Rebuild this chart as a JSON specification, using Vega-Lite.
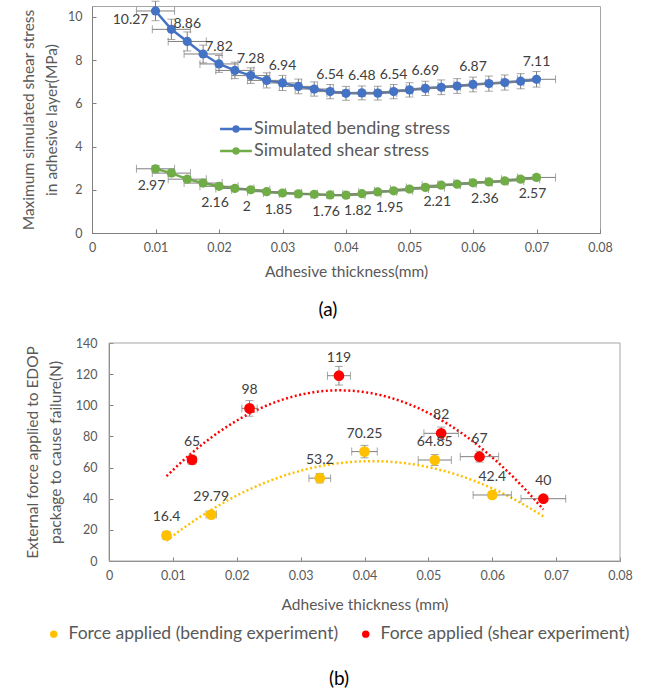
{
  "$schema": "https://vega.github.io/schema/vega-lite/v6.json",
  "background": "white",
  "padding": {"left": 21, "top": 0, "right": 5, "bottom": 5},
  "columns": 1,
  "spacing": 16,
  "datasets": {
    "top": [
      {"t": 0.01, "s": "Simulated bending stress", "v": 10.27, "e": 0.45, "xe": 0.003, "lab": "10.27"},
      {"t": 0.0125, "s": "Simulated bending stress", "v": 9.42, "e": 0.47, "xe": 0.003, "lab": ""},
      {"t": 0.015, "s": "Simulated bending stress", "v": 8.86, "e": 0.44, "xe": 0.003, "lab": "8.86"},
      {"t": 0.0175, "s": "Simulated bending stress", "v": 8.28, "e": 0.41, "xe": 0.003, "lab": ""},
      {"t": 0.02, "s": "Simulated bending stress", "v": 7.82, "e": 0.39, "xe": 0.003, "lab": "7.82"},
      {"t": 0.0225, "s": "Simulated bending stress", "v": 7.52, "e": 0.38, "xe": 0.003, "lab": ""},
      {"t": 0.025, "s": "Simulated bending stress", "v": 7.28, "e": 0.36, "xe": 0.003, "lab": "7.28"},
      {"t": 0.0275, "s": "Simulated bending stress", "v": 7.06, "e": 0.35, "xe": 0.003, "lab": ""},
      {"t": 0.03, "s": "Simulated bending stress", "v": 6.94, "e": 0.35, "xe": 0.003, "lab": "6.94"},
      {"t": 0.0325, "s": "Simulated bending stress", "v": 6.78, "e": 0.34, "xe": 0.003, "lab": ""},
      {"t": 0.035, "s": "Simulated bending stress", "v": 6.66, "e": 0.33, "xe": 0.003, "lab": ""},
      {"t": 0.0375, "s": "Simulated bending stress", "v": 6.54, "e": 0.33, "xe": 0.003, "lab": "6.54"},
      {"t": 0.04, "s": "Simulated bending stress", "v": 6.46, "e": 0.32, "xe": 0.003, "lab": ""},
      {"t": 0.0425, "s": "Simulated bending stress", "v": 6.48, "e": 0.32, "xe": 0.003, "lab": "6.48"},
      {"t": 0.045, "s": "Simulated bending stress", "v": 6.47, "e": 0.32, "xe": 0.003, "lab": ""},
      {"t": 0.0475, "s": "Simulated bending stress", "v": 6.54, "e": 0.33, "xe": 0.003, "lab": "6.54"},
      {"t": 0.05, "s": "Simulated bending stress", "v": 6.62, "e": 0.33, "xe": 0.003, "lab": ""},
      {"t": 0.0525, "s": "Simulated bending stress", "v": 6.69, "e": 0.33, "xe": 0.003, "lab": "6.69"},
      {"t": 0.055, "s": "Simulated bending stress", "v": 6.74, "e": 0.34, "xe": 0.003, "lab": ""},
      {"t": 0.0575, "s": "Simulated bending stress", "v": 6.8, "e": 0.34, "xe": 0.003, "lab": ""},
      {"t": 0.06, "s": "Simulated bending stress", "v": 6.87, "e": 0.34, "xe": 0.003, "lab": "6.87"},
      {"t": 0.0625, "s": "Simulated bending stress", "v": 6.91, "e": 0.35, "xe": 0.003, "lab": ""},
      {"t": 0.065, "s": "Simulated bending stress", "v": 6.96, "e": 0.35, "xe": 0.003, "lab": ""},
      {"t": 0.0675, "s": "Simulated bending stress", "v": 7.02, "e": 0.35, "xe": 0.003, "lab": ""},
      {"t": 0.07, "s": "Simulated bending stress", "v": 7.11, "e": 0.36, "xe": 0.003, "lab": "7.11"},
      {"t": 0.01, "s": "Simulated shear stress", "v": 2.97, "e": 0.15, "xe": 0.003, "lab": "2.97"},
      {"t": 0.0125, "s": "Simulated shear stress", "v": 2.77, "e": 0.14, "xe": 0.003, "lab": ""},
      {"t": 0.015, "s": "Simulated shear stress", "v": 2.49, "e": 0.12, "xe": 0.003, "lab": ""},
      {"t": 0.0175, "s": "Simulated shear stress", "v": 2.31, "e": 0.12, "xe": 0.003, "lab": ""},
      {"t": 0.02, "s": "Simulated shear stress", "v": 2.16, "e": 0.11, "xe": 0.003, "lab": "2.16"},
      {"t": 0.0225, "s": "Simulated shear stress", "v": 2.06, "e": 0.1, "xe": 0.003, "lab": ""},
      {"t": 0.025, "s": "Simulated shear stress", "v": 2.0, "e": 0.1, "xe": 0.003, "lab": "2"},
      {"t": 0.0275, "s": "Simulated shear stress", "v": 1.91, "e": 0.1, "xe": 0.003, "lab": ""},
      {"t": 0.03, "s": "Simulated shear stress", "v": 1.85, "e": 0.09, "xe": 0.003, "lab": "1.85"},
      {"t": 0.0325, "s": "Simulated shear stress", "v": 1.81, "e": 0.09, "xe": 0.003, "lab": ""},
      {"t": 0.035, "s": "Simulated shear stress", "v": 1.79, "e": 0.09, "xe": 0.003, "lab": ""},
      {"t": 0.0375, "s": "Simulated shear stress", "v": 1.76, "e": 0.09, "xe": 0.003, "lab": "1.76"},
      {"t": 0.04, "s": "Simulated shear stress", "v": 1.75, "e": 0.09, "xe": 0.003, "lab": ""},
      {"t": 0.0425, "s": "Simulated shear stress", "v": 1.82, "e": 0.09, "xe": 0.003, "lab": "1.82"},
      {"t": 0.045, "s": "Simulated shear stress", "v": 1.9, "e": 0.1, "xe": 0.003, "lab": ""},
      {"t": 0.0475, "s": "Simulated shear stress", "v": 1.95, "e": 0.1, "xe": 0.003, "lab": "1.95"},
      {"t": 0.05, "s": "Simulated shear stress", "v": 2.03, "e": 0.1, "xe": 0.003, "lab": ""},
      {"t": 0.0525, "s": "Simulated shear stress", "v": 2.11, "e": 0.11, "xe": 0.003, "lab": ""},
      {"t": 0.055, "s": "Simulated shear stress", "v": 2.21, "e": 0.11, "xe": 0.003, "lab": "2.21"},
      {"t": 0.0575, "s": "Simulated shear stress", "v": 2.26, "e": 0.11, "xe": 0.003, "lab": ""},
      {"t": 0.06, "s": "Simulated shear stress", "v": 2.32, "e": 0.12, "xe": 0.003, "lab": ""},
      {"t": 0.0625, "s": "Simulated shear stress", "v": 2.36, "e": 0.12, "xe": 0.003, "lab": "2.36"},
      {"t": 0.065, "s": "Simulated shear stress", "v": 2.41, "e": 0.12, "xe": 0.003, "lab": ""},
      {"t": 0.0675, "s": "Simulated shear stress", "v": 2.49, "e": 0.12, "xe": 0.003, "lab": ""},
      {"t": 0.07, "s": "Simulated shear stress", "v": 2.57, "e": 0.13, "xe": 0.003, "lab": "2.57"}
    ],
    "bottom": [
      {"t": 0.009, "g": "Force applied (bending experiment)", "f": 16.4, "ye": 2.5, "xe": 0.0005, "lab": "16.4"},
      {"t": 0.016, "g": "Force applied (bending experiment)", "f": 29.79, "ye": 2, "xe": 0.0008, "lab": "29.79"},
      {"t": 0.033, "g": "Force applied (bending experiment)", "f": 53.2, "ye": 3, "xe": 0.0017, "lab": "53.2"},
      {"t": 0.04, "g": "Force applied (bending experiment)", "f": 70.25, "ye": 4, "xe": 0.002, "lab": "70.25"},
      {"t": 0.051, "g": "Force applied (bending experiment)", "f": 64.85, "ye": 3.5, "xe": 0.0026, "lab": "64.85"},
      {"t": 0.06, "g": "Force applied (bending experiment)", "f": 42.4, "ye": 2, "xe": 0.003, "lab": "42.4"},
      {"t": 0.013, "g": "Force applied (shear experiment)", "f": 65, "ye": 3, "xe": 0.0007, "lab": "65"},
      {"t": 0.022, "g": "Force applied (shear experiment)", "f": 98, "ye": 5, "xe": 0.0012, "lab": "98"},
      {"t": 0.036, "g": "Force applied (shear experiment)", "f": 119, "ye": 6, "xe": 0.0018, "lab": "119"},
      {"t": 0.052, "g": "Force applied (shear experiment)", "f": 82, "ye": 4, "xe": 0.0027, "lab": "82"},
      {"t": 0.058, "g": "Force applied (shear experiment)", "f": 67, "ye": 3.5, "xe": 0.003, "lab": "67"},
      {"t": 0.068, "g": "Force applied (shear experiment)", "f": 40, "ye": 1.5, "xe": 0.0035, "lab": "40"}
    ]
  },
  "concat": [
    {
      "width": 508,
      "height": 227,
      "data": {"name": "top"},
      "title": {"text": "(a)", "orient": "bottom", "anchor": "middle", "frame": "group", "fontSize": 19, "fontWeight": "normal", "color": "#000000", "font": "Lato", "offset": 21, "dx": -18},
      "encoding": {
        "x": {"field": "t", "type": "quantitative", "scale": {"domain": [0, 0.08], "nice": false},
          "axis": {"title": "Adhesive thickness(mm)", "values": [0, 0.01, 0.02, 0.03, 0.04, 0.05, 0.06, 0.07, 0.08], "format": ".2~f", "labelFlush": false, "labelOverlap": false, "labelPadding": 12, "titlePadding": 11}},
        "y": {"field": "v", "type": "quantitative", "scale": {"domain": [0, 10.5], "nice": false},
          "axis": {"title": ["Maximum simulated shear stress", "in adhesive layer(MPa)"], "values": [0, 2, 4, 6, 8, 10], "labelPadding": 14, "titlePadding": 8, "titleLineHeight": 23}}
      },
      "layer": [
        {
          "transform": [{"filter": "datum.s == 'Simulated bending stress'"}],
          "mark": {"type": "line", "strokeWidth": 2.5, "color": "#4472C4"}
        },
        {
          "transform": [{"filter": "datum.s == 'Simulated shear stress'"}],
          "mark": {"type": "line", "strokeWidth": 2.5, "color": "#70AD47"}
        },
        {
          "mark": {"type": "errorbar", "color": "#7f7f7f", "thickness": 1, "ticks": {"size": 8}},
          "encoding": {"yError": {"field": "e"}}
        },
        {
          "mark": {"type": "errorbar", "color": "#7f7f7f", "thickness": 1, "ticks": {"size": 8}},
          "encoding": {"xError": {"field": "xe"}}
        },
        {
          "mark": {"type": "point", "filled": true, "opacity": 1, "size": 85, "shape": "circle"},
          "encoding": {
            "color": {"field": "s", "type": "nominal", "scale": {"domain": ["Simulated bending stress", "Simulated shear stress"], "range": ["#4472C4", "#70AD47"]},
              "legend": {"title": null, "orient": "none", "legendX": 133, "legendY": 112, "direction": "vertical", "labelFont": "Lato", "labelFontSize": 18, "labelColor": "#595959", "labelLimit": 400, "symbolType": "M-1.5,-0.12H1.5V0.12H-1.5Z M-0.36,0A0.36,0.36,0,1,1,0.36,0A0.36,0.36,0,1,1,-0.36,0Z", "symbolSize": 450, "symbolStrokeWidth": 0, "labelOffset": 7, "rowPadding": 2}}
          }
        },
        {
          "transform": [{"filter": "datum.s == 'Simulated bending stress' && datum.lab != '' && datum.t > 0.011"}],
          "mark": {"type": "text", "dy": -17, "fontSize": 14, "color": "#404040", "font": "Lato"},
          "encoding": {"text": {"field": "lab"}}
        },
        {
          "transform": [{"filter": "datum.s == 'Simulated bending stress' && datum.t < 0.011"}],
          "mark": {"type": "text", "dx": -7, "dy": 9, "align": "right", "fontSize": 14, "color": "#404040", "font": "Lato"},
          "encoding": {"text": {"field": "lab"}}
        },
        {
          "transform": [{"filter": "datum.s == 'Simulated shear stress' && datum.lab != ''"}],
          "mark": {"type": "text", "dy": 17, "dx": -4, "fontSize": 14, "color": "#404040", "font": "Lato"},
          "encoding": {"text": {"field": "lab"}}
        }
      ]
    },
    {
      "width": 528,
      "height": 218,
      "view": {"stroke": null},
      "data": {"name": "bottom"},
      "title": {"text": "(b)", "orient": "bottom", "anchor": "middle", "frame": "group", "fontSize": 19, "fontWeight": "normal", "color": "#000000", "font": "Lato", "offset": 27, "dx": -17},
      "encoding": {
        "x": {"field": "t", "type": "quantitative", "scale": {"domain": [0, 0.08], "nice": false, "range": [17, 528]},
          "axis": {"title": "Adhesive thickness (mm)", "values": [0, 0.01, 0.02, 0.03, 0.04, 0.05, 0.06, 0.07, 0.08], "format": ".2~f", "labelFlush": false, "labelOverlap": false, "labelPadding": 12, "titlePadding": 16}},
        "y": {"field": "f", "type": "quantitative", "scale": {"domain": [0, 140], "nice": false},
          "axis": {"title": ["External force applied to EDOP", "package to cause failure(N)"], "values": [0, 20, 40, 60, 80, 100, 120, 140], "offset": -17, "labelPadding": 16, "titlePadding": 12, "titleLineHeight": 23}}
      },
      "layer": [
        {
          "data": {"values": [{"x0": 0, "x1": 0.08, "y0": 0, "y1": 140}]},
          "mark": {"type": "rect", "fill": null, "stroke": "#a6a6a6", "strokeWidth": 1},
          "encoding": {
            "x": {"field": "x0", "type": "quantitative"},
            "x2": {"field": "x1"},
            "y": {"field": "y0", "type": "quantitative"},
            "y2": {"field": "y1"}
          }
        },
        {
          "transform": [{"filter": "datum.g == 'Force applied (bending experiment)'"}, {"regression": "f", "on": "t", "method": "poly", "order": 2, "extent": [0.009, 0.068]}],
          "mark": {"type": "line", "strokeWidth": 2.5, "strokeDash": [2, 2.5], "color": "#FFC000"}
        },
        {
          "transform": [{"filter": "datum.g == 'Force applied (shear experiment)'"}, {"regression": "f", "on": "t", "method": "poly", "order": 2, "extent": [0.009, 0.068]}],
          "mark": {"type": "line", "strokeWidth": 2.5, "strokeDash": [2, 2.5], "color": "#FF0000"}
        },
        {
          "mark": {"type": "errorbar", "color": "#7f7f7f", "thickness": 1, "ticks": {"size": 8}},
          "encoding": {"yError": {"field": "ye"}}
        },
        {
          "mark": {"type": "errorbar", "color": "#7f7f7f", "thickness": 1, "ticks": {"size": 8}},
          "encoding": {"xError": {"field": "xe"}}
        },
        {
          "mark": {"type": "point", "filled": true, "opacity": 1, "size": 115, "shape": "circle"},
          "encoding": {
            "color": {"field": "g", "type": "nominal", "scale": {"domain": ["Force applied (bending experiment)", "Force applied (shear experiment)"], "range": ["#FFC000", "#FF0000"]},
              "legend": {"title": null, "orient": "none", "legendX": -47, "legendY": 282, "direction": "horizontal", "columns": 2, "labelFont": "Lato", "labelFontSize": 17.5, "labelColor": "#595959", "labelLimit": 400, "symbolType": "circle", "symbolSize": 55, "labelOffset": 6, "columnPadding": 18}}
          }
        },
        {
          "mark": {"type": "text", "dy": -18, "fontSize": 14, "color": "#404040", "font": "Lato"},
          "encoding": {"text": {"field": "lab"}}
        }
      ]
    }
  ],
  "resolve": {"scale": {"x": "independent", "y": "independent", "color": "independent"}},
  "config": {
    "font": "Lato",
    "view": {"stroke": "#a6a6a6", "strokeWidth": 1},
    "axis": {"grid": false, "labelFont": "Lato", "labelFontSize": 12.5, "labelColor": "#595959", "titleFont": "Lato", "titleFontSize": 15.5, "titleFontWeight": "normal", "titleColor": "#595959", "domainColor": "#7f7f7f", "tickColor": "#7f7f7f", "tickSize": -4}
  }
}
